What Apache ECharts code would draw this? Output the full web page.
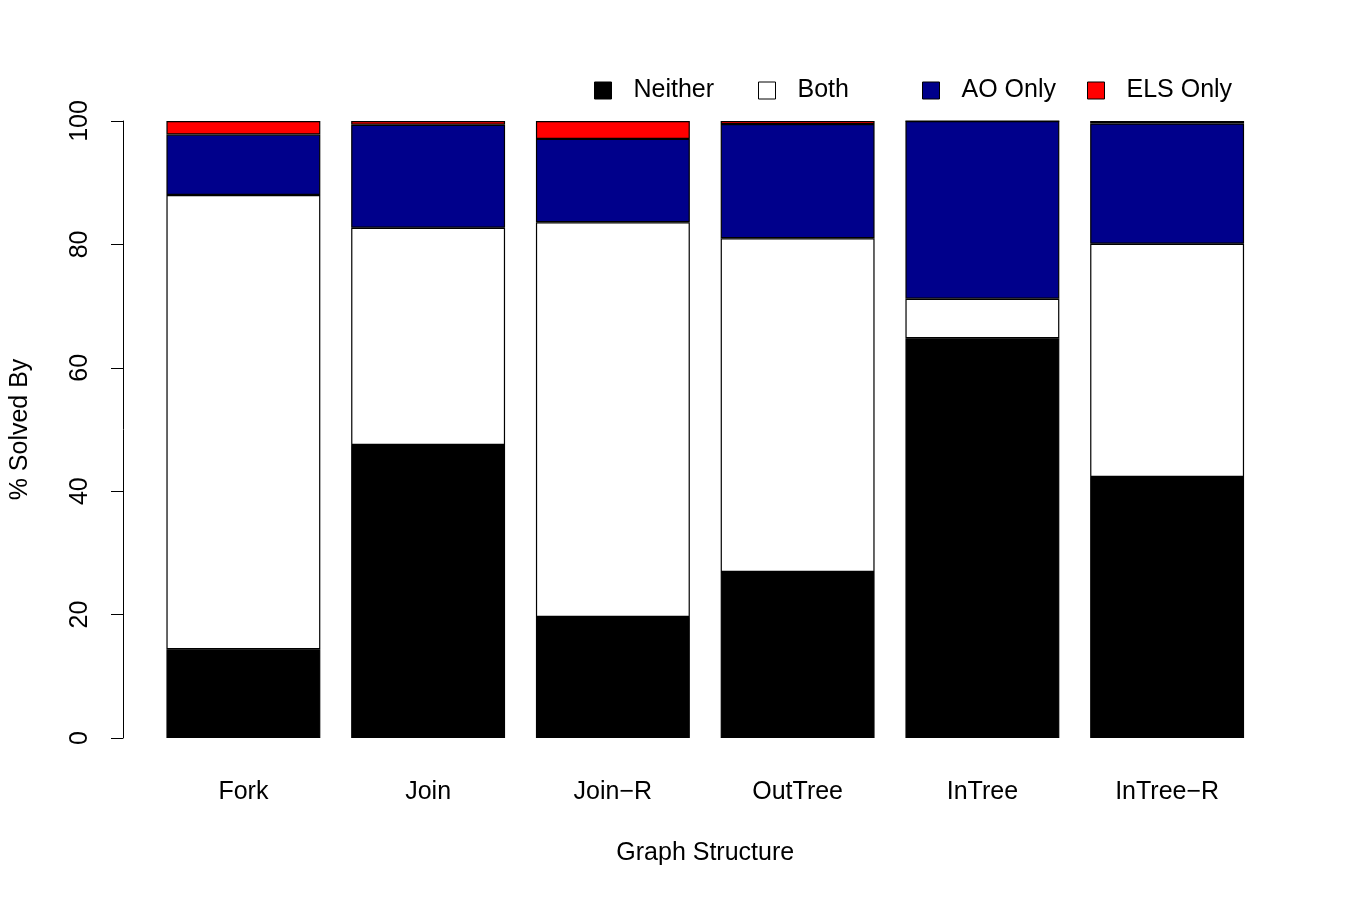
<!DOCTYPE html>
<html>
<head>
<meta charset="utf-8">
<script src="https://cdn.jsdelivr.net/npm/echarts@6/dist/echarts.min.js"></script>
<style>
  html, body { margin: 0; padding: 0; background: #fff; }
  #chart { width: 1348px; height: 898px; }
</style>
</head>
<body>
<div id="chart"></div>
<script>
const categories = ["Fork", "Join", "Join\u2212R", "OutTree", "InTree", "InTree\u2212R"];
const neither = [14.4, 47.5, 19.6, 26.9, 64.8, 42.3];
const both = [73.6, 35.2, 64.0, 54.1, 6.4, 37.8];
const aoOnly = [9.8, 16.7, 13.5, 18.5, 28.8, 19.5];
const elsOnly = [2.2, 0.6, 2.9, 0.5, 0.0, 0.4];

const font = "'Liberation Sans', Arial, Helvetica, sans-serif";
const seriesDefs = [
  { name: "Neither", data: neither, color: "#000000" },
  { name: "Both", data: both, color: "#ffffff" },
  { name: "AO Only", data: aoOnly, color: "#00008B" },
  { name: "ELS Only", data: elsOnly, color: "#FF0000" },
];
const legendLeft = [589, 753, 917, 1082];

const chart = echarts.init(document.getElementById("chart"));

const option = {
  backgroundColor: "#ffffff",
  animation: false,
  textStyle: { fontFamily: font },
  legend: seriesDefs.map((s, i) => ({
    data: [s.name],
    left: legendLeft[i],
    top: 73,
    icon: "rect",
    itemWidth: 17,
    itemHeight: 17,
    itemStyle: { borderColor: "#000", borderWidth: 1 },
    textStyle: {
      fontFamily: font,
      fontSize: 25,
      color: "#000",
      padding: [0, 0, 0, 17],
    },
    selectedMode: false,
  })),
  grid: {
    left: 150.5,
    right: 1348 - 1259.5,
    top: 121,
    bottom: 898 - 738,
  },
  xAxis: {
    type: "category",
    data: categories,
    axisLine: { show: false },
    axisTick: { show: false },
    axisLabel: {
      fontFamily: font,
      fontSize: 25,
      color: "#000",
      margin: 42,
    },
    name: "Graph Structure",
    nameLocation: "middle",
    nameGap: 103,
    nameTextStyle: { fontFamily: font, fontSize: 25, color: "#000" },
  },
  yAxis: {
    type: "value",
    min: 0,
    max: 100,
    interval: 20,
    offset: 28,
    splitLine: { show: false },
    axisLine: { show: true, lineStyle: { color: "#000", width: 1 } },
    axisTick: { show: true, length: 12, lineStyle: { color: "#000" } },
    axisLabel: {
      fontFamily: font,
      fontSize: 25,
      color: "#000",
      rotate: 90,
      margin: 30,
    },
    name: "% Solved By",
    nameLocation: "middle",
    nameGap: 90,
    nameTextStyle: { fontFamily: font, fontSize: 25, color: "#000" },
  },
  series: seriesDefs.map((s) => ({
    name: s.name,
    type: "bar",
    stack: "total",
    data: s.data,
    barCategoryGap: "16.7%",
    itemStyle: { color: s.color, borderColor: "#000", borderWidth: 1.2 },
    emphasis: { disabled: true },
  })),
};

chart.setOption(option);
window.addEventListener("resize", () => chart.resize());
</script>
</body>
</html>
